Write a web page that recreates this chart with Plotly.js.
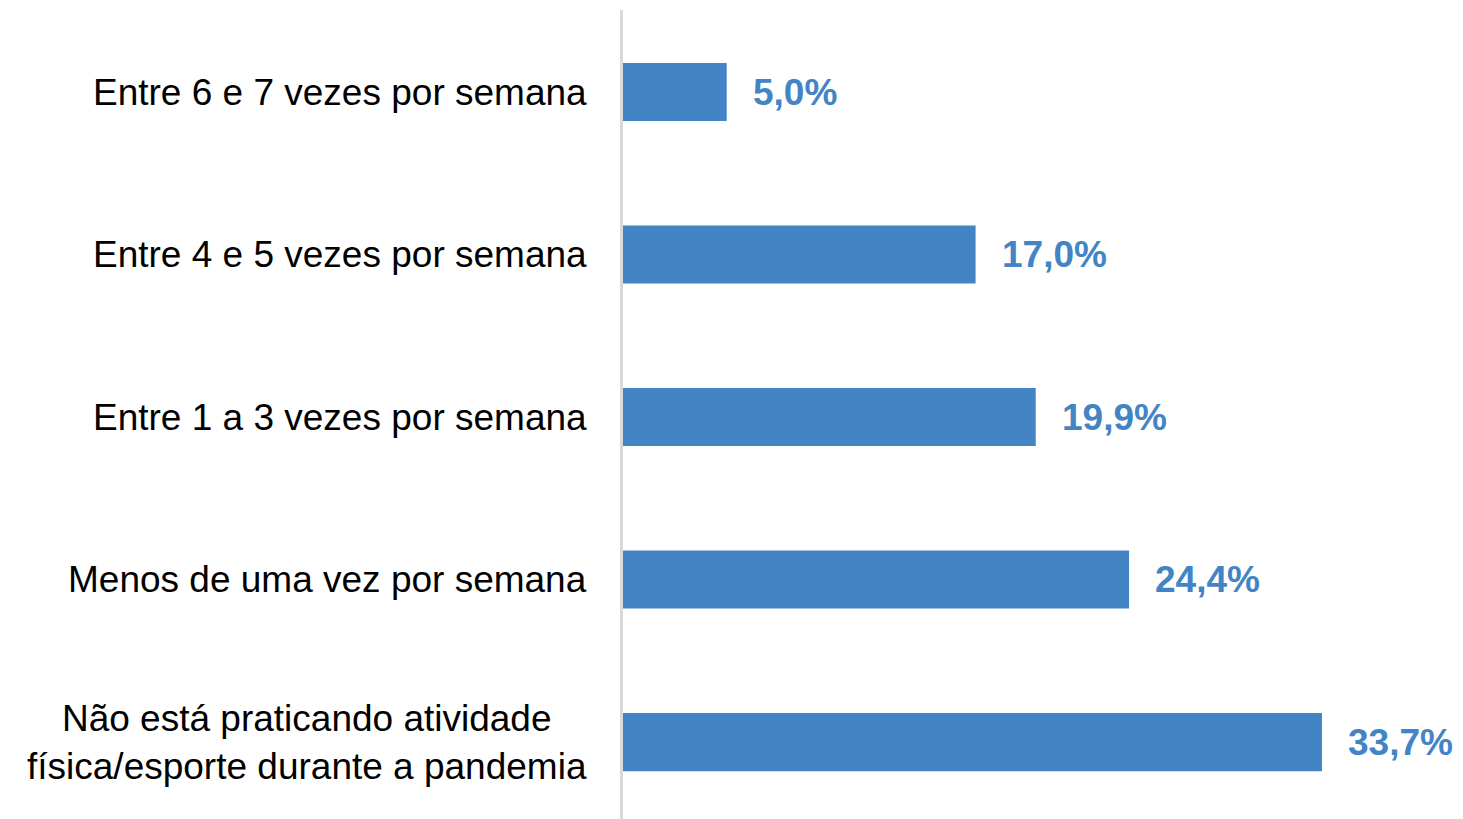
<!DOCTYPE html>
<html>
<head>
<meta charset="utf-8">
<script src="https://cdn.plot.ly/plotly-3.0.1.min.js"></script>
<style>
  html, body { margin: 0; padding: 0; background: #ffffff; overflow: hidden; }
  #chart { width: 1463px; height: 819px; }
</style>
</head>
<body>
<div id="chart"></div>
<script>
// Categories, top to bottom
const categories = [
  "Entre 6 e 7 vezes por semana",
  "Entre 4 e 5 vezes por semana",
  "Entre 1 a 3 vezes por semana",
  "Menos de uma vez por semana",
  "Não está praticando atividade<br>física/esporte durante a pandemia"
];
// Percent values
const values = [5.0, 17.0, 19.9, 24.4, 33.7];
// Value labels
const valueLabels = values.map(v => v.toFixed(1).replace('.', ',') + '%');

const barColor = '#4384C5';
const fontFamily = '"Liberation Sans", Arial, sans-serif';

const trace = {
  type: 'bar',
  orientation: 'h',
  x: values,
  y: categories,
  marker: { color: barColor },
  hoverinfo: 'none'
};

const annotations = [];
categories.forEach((c, i) => {
  annotations.push({
    xref: 'paper', yref: 'y',
    x: -0.041, y: c,
    xanchor: 'right', yanchor: 'middle',
    text: c, align: 'center', showarrow: false,
    font: { family: fontFamily, size: 37, color: '#000000' }
  });
  annotations.push({
    xref: 'x', yref: 'y',
    x: values[i], y: c,
    xanchor: 'left', yanchor: 'middle',
    xshift: 24,
    text: '<b>' + valueLabels[i] + '</b>', showarrow: false,
    font: { family: fontFamily, size: 37, color: barColor }
  });
});

const layout = {
  width: 1463,
  height: 819,
  margin: { l: 623, r: 0, t: 10, b: 0 },
  paper_bgcolor: '#ffffff',
  plot_bgcolor: '#ffffff',
  showlegend: false,
  bargap: 0.643,
  xaxis: {
    range: [0, 40.5],
    showgrid: false, zeroline: false, showline: false,
    showticklabels: false, ticks: ''
  },
  yaxis: {
    type: 'category',
    categoryorder: 'array',
    categoryarray: categories,
    range: [4.473, -0.505],
    showgrid: false, zeroline: false,
    showline: true, linecolor: '#D9D9D9', linewidth: 3,
    showticklabels: false, ticks: ''
  },
  annotations: annotations,
  font: { family: fontFamily }
};

Plotly.newPlot('chart', [trace], layout, { displayModeBar: false, staticPlot: true });
</script>
</body>
</html>
